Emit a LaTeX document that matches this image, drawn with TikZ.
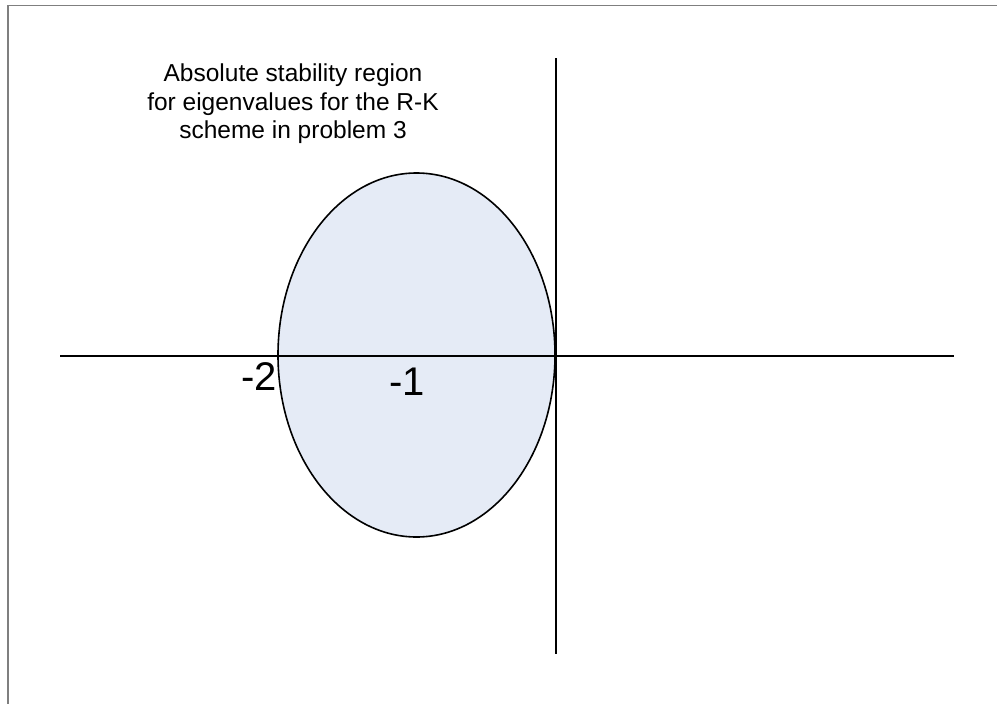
\documentclass[tikz,border=0pt]{standalone}
\usepackage{fontspec}
\usetikzlibrary{shapes.geometric}
\setmainfont{Liberation Sans}
\definecolor{regionfill}{HTML}{E5EBF6}
\definecolor{framegray}{HTML}{7F7F7F}
\begin{document}
\begin{tikzpicture}[x=1pt,y=-1pt,
  axis/.style={line width=2pt,black},
  region/.style={draw=black,line width=1.6pt,fill=regionfill},
  lbl/.style={font=\fontsize{24.5}{28.5}\selectfont,align=center,inner sep=0pt},
  tick/.style={font=\fontsize{40}{42}\selectfont,inner sep=0pt}]
\useasboundingbox (0,0) rectangle (997,704);
\begin{scope}
\clip (0,0) rectangle (997,704);
\draw[framegray,line width=1.5pt] (8,5.5) rectangle (1010,720);
\end{scope}
\node[region,ellipse,minimum width=277pt,minimum height=364pt,inner sep=0pt] (ell) at (416.5,355) {};
\coordinate (xl) at (60,356);
\coordinate (xr) at (954,356);
\coordinate (yt) at (556,58);
\coordinate (yb) at (556,654);
\draw[axis] (xl) -- (xr);
\draw[axis] (yt) -- (yb);
\node[lbl] (title) at (293,104) {Absolute stability region\\for eigenvalues for the R-K\\scheme in problem 3};
\node[tick] (m2) at (259,377) {-2};
\node[tick] (m1) at (407,382) {-1};
\end{tikzpicture}
\end{document}
